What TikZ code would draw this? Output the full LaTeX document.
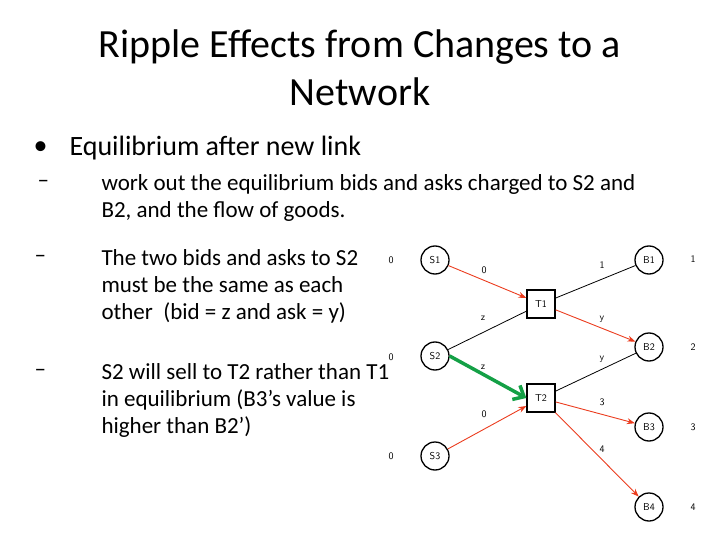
\documentclass[tikz,border=0pt]{standalone}
\usepackage{fontspec}
\setmainfont{Carlito}
\usetikzlibrary{arrows.meta}
\begin{document}
\begin{tikzpicture}[x=1pt,y=-1pt,
  circ/.style={circle,draw,line width=1.3pt,fill=white,minimum size=28pt,inner sep=0pt,font=\fontsize{10}{11}\sffamily},
  sq/.style={rectangle,draw,line width=1.3pt,fill=white,minimum size=28pt,inner sep=0pt,font=\fontsize{10}{11}\sffamily},
  val/.style={font=\fontsize{10}{11}\sffamily},
  red/.style={draw={rgb,255:red,235;green,60;blue,30},line width=0.9pt,-{Stealth[length=8pt]}},
  blk/.style={draw=black,line width=0.8pt},
  sub/.style={anchor=west,font=\fontsize{23}{27}\selectfont,align=left}]
\useasboundingbox (0,0) rectangle (720,540);
\node[font=\fontsize{40}{48}\selectfont,align=center] (title) at (360,68) {Ripple Effects from Changes to a\\Network};
\node[anchor=west,font=\fontsize{28}{32}\selectfont] (bul) at (30,148) {\textbullet};
\node[anchor=west,font=\fontsize{28}{32}\selectfont] (b1) at (66,148) {Equilibrium after new link};
\node[anchor=west,font=\fontsize{23}{27}\selectfont] (d1) at (34,184) {--};
\node[sub] (s1) at (98,198) {work out the equilibrium bids and asks charged to S2 and\\B2, and the flow of goods.};
\node[anchor=west,font=\fontsize{23}{27}\selectfont] (d2) at (31,259) {--};
\node[sub] (s2) at (98,286) {The two bids and asks to S2\\must be the same as each\\other\ \ (bid = z and ask = y)};
\node[anchor=west,font=\fontsize{23}{27}\selectfont] (d3) at (31,373) {--};
\node[sub] (s3) at (98,400) {S2 will sell to T2 rather than T1\\in equilibrium (B3's value is\\higher than B2')};
\node[circ] (S1) at (435,260) {S1};
\node[circ] (S2) at (435,356) {S2};
\node[circ] (S3) at (435,456) {S3};
\node[sq] (T1) at (541,304) {T1};
\node[sq] (T2) at (541,398) {T2};
\node[circ] (B1) at (649,260) {B1};
\node[circ] (B2) at (649,347) {B2};
\node[circ] (B3) at (649,427) {B3};
\node[circ] (B4) at (649,507) {B4};
\foreach \n/\y/\t in {l1/260/0,l2/357/0,l3/456/0}{\node[val] (\n) at (391,\y) {\t};}
\foreach \n/\y/\t in {r1/259/1,r2/347/2,r3/427/3,r4/507/4}{\node[val] (\n) at (693,\y) {\t};}
\draw[red] (S1) -- (T1);
\draw[red] (S3) -- (T2);
\draw[red] (T1) -- (B2);
\draw[red] (T2) -- (B3);
\draw[red] (T2) -- (B4);
\draw[blk] (T1) -- (B1);
\draw[blk] (S2) -- (T1);
\draw[blk] (T2) -- (B2);
\draw[draw={rgb,255:red,20;green,160;blue,70},line width=3.5pt,-{Straight Barb[length=9pt,width=16pt]}] (S2.east) -- (T2.west);
\node[val] (e1) at (484,270) {0};
\node[val] (e2) at (602,265) {1};
\node[val] (e3) at (483,318) {z};
\node[val] (e4) at (602,319) {y};
\node[val] (e5) at (483,367) {z};
\node[val] (e6) at (602,359) {y};
\node[val] (e7) at (484,414) {0};
\node[val] (e8) at (602,402) {3};
\node[val] (e9) at (602,449) {4};
\end{tikzpicture}
\end{document}
